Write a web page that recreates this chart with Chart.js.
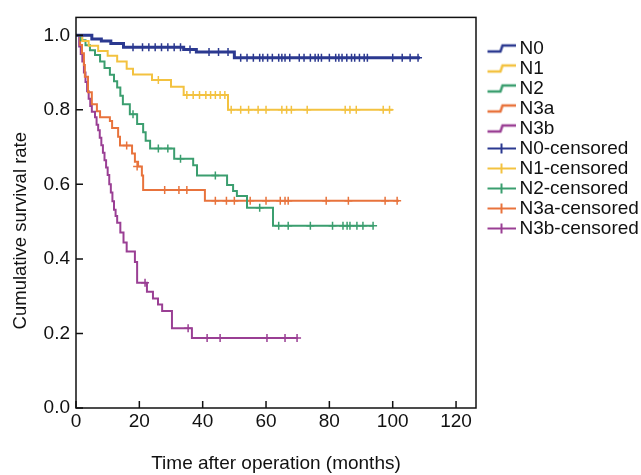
<!DOCTYPE html>
<html lang="en">
<head>
<meta charset="UTF-8">
<title>Cumulative survival rate</title>
<script src="https://cdn.jsdelivr.net/npm/chart.js"></script>
<style>
    body { margin: 0; background: #fff; }
</style>
</head>
<body>
<canvas id="survChart" width="641" height="475"></canvas>
<script>
// Kaplan-Meier curves (months, survival)
const groups = ["N0", "N1", "N2", "N3a", "N3b"];
const groupColors = ["#2b3990", "#f3c240", "#3b9e6f", "#e8733c", "#9a3f94"];

const n0Time = [0, 5, 8, 11, 15, 34, 38, 50, 108.6];
const n0Surv = [1.0, 0.99, 0.985, 0.978, 0.968, 0.962, 0.955, 0.94, 0.94];
const n1Time = [0, 2, 4, 7, 10, 13, 16, 18, 24, 30, 34, 48, 100];
const n1Surv = [1.0, 0.985, 0.972, 0.958, 0.945, 0.93, 0.91, 0.895, 0.88, 0.862, 0.84, 0.80, 0.80];
const n2Time = [0, 1.5, 3, 4.4, 6, 7.6, 9, 10.7, 12, 13, 14, 14.8, 17, 19.3, 21.2, 22, 23.4, 31, 37, 38.2, 47.7, 49.6, 50.8, 54, 62.2, 94];
const n2Surv = [1.0, 0.987, 0.973, 0.96, 0.947, 0.93, 0.912, 0.894, 0.877, 0.86, 0.838, 0.815, 0.788, 0.762, 0.74, 0.717, 0.696, 0.669, 0.651, 0.624, 0.598, 0.582, 0.569, 0.537, 0.489, 0.489];
const n3aTime = [0, 1.3, 1.9, 2.5, 2.8, 3.8, 5, 6.6, 7.6, 10.7, 11.4, 13.3, 13.9, 17.7, 18.6, 19.6, 20.8, 21.2, 40.7, 102];
const n3aSurv = [1.0, 0.974, 0.952, 0.92, 0.889, 0.847, 0.815, 0.796, 0.78, 0.77, 0.751, 0.728, 0.704, 0.683, 0.661, 0.648, 0.624, 0.585, 0.556, 0.556];
const n3bTime = [0, 1, 1.5, 2, 2.5, 3, 3.5, 4, 4.5, 5, 6, 6.5, 7, 7.5, 8, 8.5, 9, 9.5, 10, 10.5, 11, 11.5, 12, 12.5, 13, 14, 15, 16, 18.6, 19.3, 22.4, 24.3, 25.9, 27.2, 30.3, 36.6, 70];
const n3bSurv = [1.0, 0.97, 0.95, 0.93, 0.9, 0.875, 0.85, 0.83, 0.81, 0.795, 0.78, 0.76, 0.745, 0.725, 0.705, 0.685, 0.665, 0.645, 0.625, 0.6, 0.578, 0.555, 0.532, 0.515, 0.497, 0.471, 0.444, 0.42, 0.392, 0.336, 0.312, 0.294, 0.278, 0.26, 0.214, 0.188, 0.188];

// censored observations
const n0CensTime = [18, 21, 23, 25, 27, 29, 31, 33, 36, 42, 45, 48, 52, 54, 56, 58, 59, 60.5, 62, 64, 65, 66, 67.5, 70.5, 72, 74, 75.5, 76.5, 77.5, 80, 82, 83, 84, 85.5, 87, 88, 89.5, 91, 92, 100, 103, 105.5, 108];
const n0CensSurv = [0.968, 0.968, 0.968, 0.968, 0.968, 0.968, 0.968, 0.968, 0.962, 0.955, 0.955, 0.955, 0.94, 0.94, 0.94, 0.94, 0.94, 0.94, 0.94, 0.94, 0.94, 0.94, 0.94, 0.94, 0.94, 0.94, 0.94, 0.94, 0.94, 0.94, 0.94, 0.94, 0.94, 0.94, 0.94, 0.94, 0.94, 0.94, 0.94, 0.94, 0.94, 0.94, 0.94];
const n1CensTime = [26, 35, 37, 39, 41, 42.5, 44, 45.5, 47, 49, 52, 54.5, 57.5, 60, 65, 66.5, 68, 73, 85, 86.5, 88.5, 97, 99];
const n1CensSurv = [0.88, 0.84, 0.84, 0.84, 0.84, 0.84, 0.84, 0.84, 0.84, 0.80, 0.80, 0.80, 0.80, 0.80, 0.80, 0.80, 0.80, 0.80, 0.80, 0.80, 0.80, 0.80, 0.80];
const n2CensTime = [18, 26, 29, 33, 44, 58, 64, 67, 74, 81, 84.3, 85.6, 86.5, 88.7, 90.6, 93.8];
const n2CensSurv = [0.788, 0.696, 0.696, 0.669, 0.624, 0.537, 0.489, 0.489, 0.489, 0.489, 0.489, 0.489, 0.489, 0.489, 0.489, 0.489];
const n3aCensTime = [16, 19.3, 28, 32.5, 35, 44, 47.5, 50, 55, 60, 64.5, 66, 67, 79, 86, 97.6, 101.4];
const n3aCensSurv = [0.704, 0.648, 0.585, 0.585, 0.585, 0.556, 0.556, 0.556, 0.556, 0.556, 0.556, 0.556, 0.556, 0.556, 0.556, 0.556, 0.556];
const n3bCensTime = [21.8, 35.4, 41.4, 45.5, 60.3, 66, 69.8];
const n3bCensSurv = [0.336, 0.214, 0.188, 0.188, 0.188, 0.188, 0.188];

const xTicks = [0, 20, 40, 60, 80, 100, 120];
const yTicks = [0, 0.2, 0.4, 0.6, 0.8, 1.0];

const curveTimes = [n0Time, n1Time, n2Time, n3aTime, n3bTime];
const curveSurv = [n0Surv, n1Surv, n2Surv, n3aSurv, n3bSurv];
const censTimes = [n0CensTime, n1CensTime, n2CensTime, n3aCensTime, n3bCensTime];
const censSurv = [n0CensSurv, n1CensSurv, n2CensSurv, n3aCensSurv, n3bCensSurv];

const fontFamily = '"Liberation Sans", Arial, sans-serif';

function pairs(xs, ys) {
    return xs.map((x, i) => ({ x: x, y: ys[i] }));
}

// legend icons; the blank strip on the left pushes the drawn part right
function stepIcon(color) {
    const c = document.createElement("canvas");
    c.width = 44; c.height = 12;
    const g = c.getContext("2d");
    g.strokeStyle = color;
    g.lineWidth = 2.5;
    g.beginPath();
    g.moveTo(16, 9); g.lineTo(29, 9); g.lineTo(31, 3); g.lineTo(44, 3);
    g.stroke();
    return c;
}
function crossIcon(color) {
    const c = document.createElement("canvas");
    c.width = 44; c.height = 12;
    const g = c.getContext("2d");
    g.strokeStyle = color;
    g.lineWidth = 2;
    g.beginPath();
    g.moveTo(16, 6); g.lineTo(44, 6);
    g.moveTo(30, 1); g.lineTo(30, 11);
    g.stroke();
    return c;
}

const datasets = [];
groups.forEach((name, i) => {
    datasets.push({
        label: name,
        data: pairs(curveTimes[i], curveSurv[i]),
        borderColor: groupColors[i],
        borderWidth: i === 0 ? 3 : 2,
        stepped: "before",
        pointRadius: 0,
        fill: false
    });
});
groups.forEach((name, i) => {
    datasets.push({
        label: name + "-censored",
        data: pairs(censTimes[i], censSurv[i]),
        borderColor: groupColors[i],
        showLine: false,
        pointStyle: "cross",
        pointRadius: 4,
        pointBorderWidth: 1.5
    });
});

const icons = groupColors.map(stepIcon).concat(groupColors.map(crossIcon));

const framePlugin = {
    id: "frame",
    afterDraw(chart) {
        const { ctx, chartArea: a, scales } = chart;
        ctx.save();
        ctx.strokeStyle = "#111";
        ctx.lineWidth = 1.5;
        ctx.strokeRect(a.left, a.top, a.right - a.left, a.bottom - a.top);
        ctx.beginPath();
        scales.x.ticks.forEach(t => {
            const px = scales.x.getPixelForValue(t.value);
            ctx.moveTo(px, a.bottom);
            ctx.lineTo(px, a.bottom - 7);
        });
        scales.y.ticks.forEach(t => {
            const py = scales.y.getPixelForValue(t.value);
            ctx.moveTo(a.left, py);
            ctx.lineTo(a.left + 7, py);
        });
        ctx.stroke();
        ctx.restore();
    }
};

new Chart(document.getElementById("survChart"), {
    type: "line",
    data: { datasets: datasets },
    plugins: [framePlugin],
    options: {
        responsive: false,
        animation: false,
        layout: { padding: { top: 12, right: 0, bottom: 0, left: 0 } },
        plugins: {
            tooltip: { enabled: false },
            legend: {
                position: "right",
                align: "start",
                maxWidth: 165,
                title: { display: true, text: "", font: { size: 10, lineHeight: 1 }, padding: { top: 16, bottom: 0 } },
                labels: {
                    usePointStyle: true,
                    pointStyleWidth: 33,
                    padding: 1,
                    color: "#111",
                    font: { family: fontFamily, size: 19 },
                    generateLabels: chart => chart.data.datasets.map((ds, i) => ({
                        text: ds.label,
                        pointStyle: icons[i],
                        fillStyle: ds.borderColor,
                        strokeStyle: ds.borderColor,
                        fontColor: "#111",
                        lineWidth: 0,
                        hidden: false,
                        datasetIndex: i
                    }))
                }
            }
        },
        scales: {
            x: {
                type: "linear",
                min: 0,
                max: 126.3,
                grid: { display: false, drawTicks: false },
                border: { display: false },
                afterBuildTicks: axis => { axis.ticks = xTicks.map(v => ({ value: v })); },
                afterFit: axis => { axis.height = 67; },
                ticks: { color: "#111", padding: 2, maxRotation: 0, font: { family: fontFamily, size: 19 } },
                title: {
                    display: true,
                    text: "Time after operation (months)",
                    color: "#111",
                    font: { family: fontFamily, size: 19, lineHeight: 1.2 },
                    padding: { top: 0, bottom: 0 }
                }
            },
            y: {
                type: "linear",
                min: 0,
                max: 1.048,
                grid: { display: false, drawTicks: false },
                border: { display: false },
                afterBuildTicks: axis => { axis.ticks = yTicks.map(v => ({ value: v })); },
                afterFit: axis => { axis.width = 76; },
                ticks: { color: "#111", padding: 6, font: { family: fontFamily, size: 19 }, callback: v => v.toFixed(1) },
                title: {
                    display: true,
                    text: "Cumulative survival rate       ",
                    color: "#111",
                    font: { family: fontFamily, size: 18.5, lineHeight: 1.2 },
                    padding: { top: 10, bottom: 0 }
                }
            }
        }
    }
});
</script>
</body>
</html>
